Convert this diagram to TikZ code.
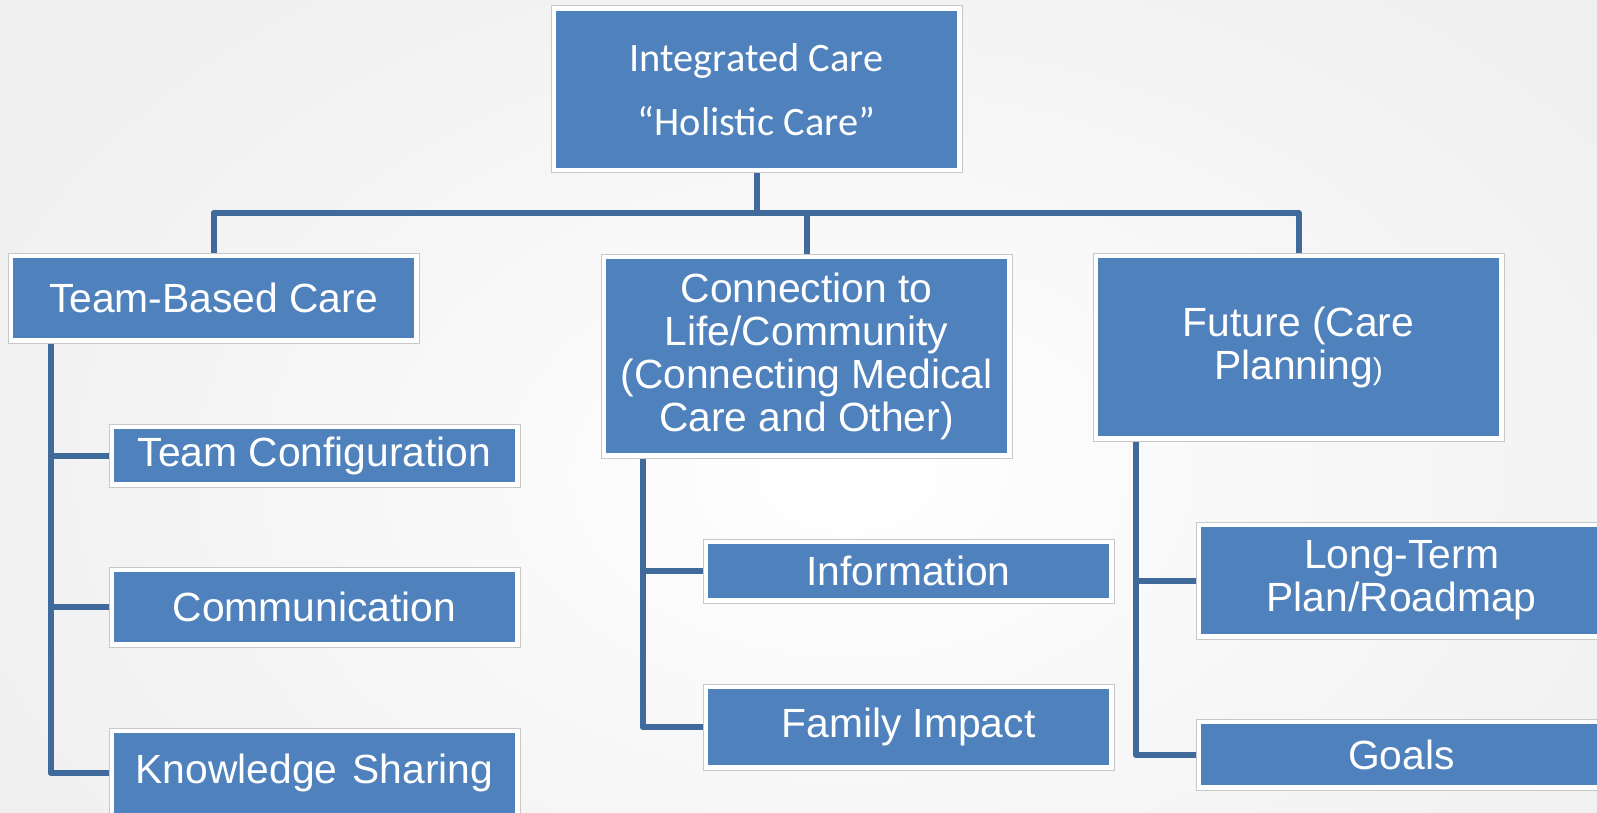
\documentclass[tikz,border=0pt]{standalone}
\usepackage{fontspec}
\setmainfont{Liberation Sans}
\newfontfamily\calibrifont{Carlito}
\usetikzlibrary{calc}

\definecolor{boxblue}{RGB}{79,129,189}
\definecolor{linkblue}{RGB}{64,105,156}
\definecolor{frameline}{RGB}{200,200,200}

\begin{document}
\begin{tikzpicture}[
  x=0.5pt,
  y=-0.5pt
]

  \tikzstyle{carebox}=[draw=frameline,line width=0.5pt,fill=white,inner sep=0pt,align=center,text=white,minimum width=205.5pt,font=\fontsize{20.4}{21.5}\selectfont,
    path picture={\fill[boxblue] ([shift={(2.5pt,-2.5pt)}]path picture bounding box.north west) rectangle ([shift={(-2.5pt,2.5pt)}]path picture bounding box.south east);}]
  \tikzstyle{link}=[draw=linkblue,line width=3pt,line join=round]

  % page
  \useasboundingbox (0,0) rectangle (1597,813);
  \shade[inner color=white,outer color=black!6] (-100,-150) rectangle (1797,1100);

  % boxes
  \node[carebox,minimum height=83.5pt,font=\calibrifont\fontsize{20.2}{32}\selectfont] (top) at (756.5,89.5) {Integrated Care\\“Holistic Care”};

  \node[carebox,minimum height=45pt]   (team)     at (213.5,298)   {Team-Based Care};
  \node[carebox,minimum height=31.5pt] (teamconf) at (314.5,455.5) {Team Configuration};
  \node[carebox,minimum height=40pt]   (comm)     at (314.5,607)   {Communication};
  \node[carebox,minimum height=45pt]   (know)     at (314.5,773)   {Knowledge\hspace{2pt} Sharing};

  \node[carebox,minimum height=102pt]  (conn)     at (806.5,356)   {Connection to\\Life/Community\\(Connecting Medical\\Care and Other)};
  \node[carebox,minimum height=32pt]   (info)     at (908.5,571)   {Information};
  \node[carebox,minimum height=43pt]   (family)   at (908.5,727)   {Family Impact};

  \node[carebox,minimum height=94pt]   (future)   at (1298.5,347)  {Future (Care\\Planning{\fontsize{15}{15}\selectfont)}};
  \node[carebox,minimum height=58.5pt] (longterm) at (1401.5,580.5) {Long-Term\\Plan/Roadmap};
  \node[carebox,minimum height=35.5pt] (goals)    at (1401.5,754.5) {Goals};

  \coordinate (bus) at (0,213);

  % links
  \draw[link] (top.south) -- (top.south |- bus) -| (team.north);
  \draw[link] (top.south |- bus) -| (conn.north);
  \draw[link] (top.south |- bus) -| (future.north);

  \draw[link] ([xshift=21.5pt]team.south west)   |- (teamconf.west);
  \draw[link] ([xshift=21.5pt]team.south west)   |- (comm.west);
  \draw[link] ([xshift=21.5pt]team.south west)   |- (know.west);

  \draw[link] ([xshift=21pt]conn.south west)     |- (info.west);
  \draw[link] ([xshift=21pt]conn.south west)     |- (family.west);

  \draw[link] ([xshift=21.5pt]future.south west) |- (longterm.west);
  \draw[link] ([xshift=21.5pt]future.south west) |- (goals.west);

\end{tikzpicture}
\end{document}
